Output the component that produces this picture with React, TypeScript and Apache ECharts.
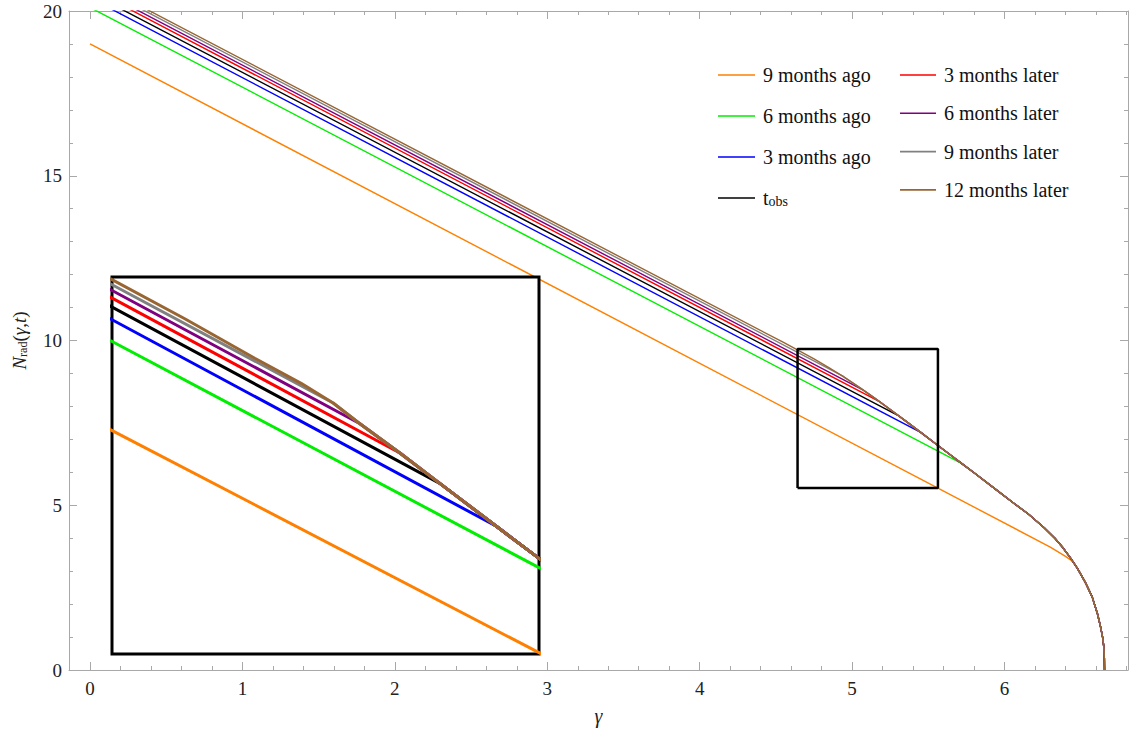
import React, { useEffect, useRef } from 'react';
import * as echarts from 'echarts';

// ---------- data ----------
const seriesNames = ['9 months ago', '6 months ago', '3 months ago', 't_obs', '3 months later', '6 months later', '9 months later', '12 months later'];
const seriesColors = ['#FF8000', '#00EE00', '#0000FF', '#000000', '#FF0000', '#800080', '#808080', '#996633'];

const xTickValues = [0, 1, 2, 3, 4, 5, 6];
const yTickValues = [0, 5, 10, 15, 20];

// common late-time curve (all curves join it)
const envelope: [number, number][] = [
  [4.55, 9.94], [4.65, 9.695], [4.75, 9.44], [4.85, 9.17], [4.95, 8.88], [5.05, 8.57], [5.15, 8.245],
  [5.25, 7.905], [5.35, 7.56], [5.45, 7.21], [5.55, 6.86], [5.65, 6.51], [5.72, 6.265], [5.80, 5.985],
  [5.94, 5.49], [6.05, 5.1], [6.16, 4.72], [6.26, 4.32], [6.33, 4.0], [6.378, 3.74], [6.43, 3.42], [6.477, 3.09],
  [6.53, 2.66], [6.575, 2.22], [6.61, 1.70], [6.63, 1.31], [6.645, 0.95], [6.651, 0.71], [6.655, 0.35], [6.656, 0],
];

// individual branches before joining the common curve
const head9Ago: [number, number][] = [[0, 19.0], [5.563, 5.52], [6.30, 3.73], [6.40, 3.45], [6.45, 3.29], [6.49, 3.0]];
const head6Ago: [number, number][] = [[0, 20.106], [5.72, 6.265]];
const head3Ago: [number, number][] = [[0, 20.397], [5.45, 7.21]];
const headObs: [number, number][] = [[0, 20.554], [5.30, 7.73]];
const head3Later: [number, number][] = [[0, 20.682], [5.18, 8.146]];
const head6Later: [number, number][] = [[0, 20.777], [5.07, 8.505]];
const head9Later: [number, number][] = [[0, 20.874], [4.94, 8.92]];
const head12Later: [number, number][] = [[0, 20.95], [4.55, 9.94]];

// zoom region
const zoomX = [4.642, 5.563];
const zoomY = [5.52, 9.74];

// inset (magnified view) curves
const insetEnvelope: [number, number][] = [
  [4.60, 9.827], [4.642, 9.71], [4.80, 9.27], [4.95, 8.83], [5.05, 8.55], [5.119, 8.33], [5.176, 8.10],
  [5.263, 7.77], [5.349, 7.43], [5.471, 6.95], [5.563, 6.59], [5.60, 6.446],
];
const insetHead9Ago: [number, number][] = [[4.60, 8.135], [5.563, 5.535], [5.60, 5.435]];
const insetHead6Ago: [number, number][] = [[4.60, 9.134], [5.563, 6.487], [5.60, 6.385]];
const insetHead3Ago: [number, number][] = [[4.60, 9.379], [5.471, 6.95]];
const insetHeadObs: [number, number][] = [[4.60, 9.521], [5.349, 7.43]];
const insetHead3Later: [number, number][] = [[4.60, 9.621], [5.263, 7.77]];
const insetHead6Later: [number, number][] = [[4.60, 9.707], [5.176, 8.10]];
const insetHead9Later: [number, number][] = [[4.60, 9.771], [5.119, 8.33]];
const insetHead12Later: [number, number][] = [[4.60, 9.827]];

const mainHeads = [head9Ago, head6Ago, head3Ago, headObs, head3Later, head6Later, head9Later, head12Later];
const insetHeads = [insetHead9Ago, insetHead6Ago, insetHead3Ago, insetHeadObs, insetHead3Later, insetHead6Later, insetHead9Later, insetHead12Later];

function joinCurve(head: [number, number][], tail: [number, number][]) {
  const last = head[head.length - 1][0];
  return head.concat(tail.filter((p) => p[0] > last + 1e-9));
}

// ---------- styling ----------
const FONT = "'Liberation Serif', 'Times New Roman', Times, serif";
const AXIS_GRAY = '#a8a8a8';
const X_MIN = -0.138;
const X_MAX = 6.81;

function frameAxis(extra: any) {
  return {
    type: 'value',
    axisLine: { show: true, onZero: false, lineStyle: { color: AXIS_GRAY, width: 1 } },
    axisTick: { show: true, inside: true, length: 8, lineStyle: { color: AXIS_GRAY } },
    minorTick: { show: true, splitNumber: 5, length: 4, lineStyle: { color: AXIS_GRAY } },
    splitLine: { show: false },
    minorSplitLine: { show: false },
    ...extra,
  };
}

const legendRich = {
  t: { fontFamily: FONT, fontSize: 20, color: '#111', lineHeight: 20, verticalAlign: 'bottom' },
  s: { fontFamily: FONT, fontSize: 14, color: '#111', lineHeight: 6, verticalAlign: 'bottom' },
};
const legendFormatter = (name: string) => (name === 't_obs' ? '{t|t}{s|obs}' : name);
const legendText = { fontFamily: FONT, fontSize: 20, color: '#111', lineHeight: 20, padding: [0, 0, 0, 3], rich: legendRich };

export default function App() {
  const ref = useRef<HTMLDivElement>(null);
  useEffect(() => {
    const chart = echarts.init(ref.current!, null, { renderer: 'svg' });
    const labelFmt = (v: number) => {
      const r = Math.round(v);
      return Math.abs(v - r) < 1e-6 && xTickValues.includes(r) ? String(r) : '';
    };
    const yLabelFmt = (v: number) => {
      const r = Math.round(v);
      return yTickValues.includes(r) && Math.abs(v - r) < 1e-6 ? String(r) : '';
    };
    const mainSeries = seriesNames.map((name, i) => ({
      name,
      type: 'line',
      xAxisIndex: 0,
      yAxisIndex: 0,
      data: joinCurve(mainHeads[i], envelope),
      symbol: 'none',
      showSymbol: false,
      clip: true,
      z: 2 + i * 0.01,
      lineStyle: { color: seriesColors[i], width: 1.4 },
      itemStyle: { color: seriesColors[i] },
    }));
    const insetSeries = seriesNames.map((name, i) => ({
      name,
      type: 'line',
      xAxisIndex: 2,
      yAxisIndex: 2,
      data: joinCurve(insetHeads[i], insetEnvelope),
      symbol: 'none',
      showSymbol: false,
      clip: true,
      z: 12 + i * 0.01,
      lineStyle: { color: seriesColors[i], width: 3 },
      itemStyle: { color: seriesColors[i] },
    }));
    const zoomBox = [
      [zoomX[0], zoomY[0]], [zoomX[1], zoomY[0]], [zoomX[1], zoomY[1]], [zoomX[0], zoomY[1]], [zoomX[0], zoomY[0]],
    ];
    const legendCommon = {
      orient: 'vertical', icon: 'rect', itemHeight: 1.6, selectedMode: false,
      formatter: legendFormatter, textStyle: legendText,
    };
    const option: any = {
      animation: false,
      backgroundColor: '#ffffff',
      grid: [
        { left: 69, top: 11, right: 2, bottom: 64, show: false },
        { left: 112, top: 277, width: 427, height: 377, show: true, backgroundColor: '#ffffff', borderColor: '#000', borderWidth: 3, z: 10 },
      ],
      legend: [
        { ...legendCommon, data: seriesNames.slice(0, 4), left: 713, top: 60, itemWidth: 37, itemGap: 21 },
        { ...legendCommon, data: seriesNames.slice(4), left: 895, top: 60, itemWidth: 36, itemGap: 18.3 },
      ],
      xAxis: [
        frameAxis({
          gridIndex: 0, min: X_MIN, max: X_MAX, position: 'bottom',
          axisLabel: { show: true, formatter: labelFmt, fontFamily: FONT, fontSize: 19, color: '#222', margin: 9 },
          name: 'γ', nameLocation: 'middle', nameGap: 36,
          nameTextStyle: { fontFamily: FONT, fontStyle: 'italic', fontSize: 20, color: '#222' },
        }),
        frameAxis({ gridIndex: 0, min: X_MIN, max: X_MAX, position: 'top', axisLabel: { show: false } }),
        { type: 'value', gridIndex: 1, min: zoomX[0], max: zoomX[1], show: false },
      ],
      yAxis: [
        frameAxis({
          gridIndex: 0, min: 0, max: 20, interval: 5, position: 'left',
          axisLabel: { show: true, formatter: yLabelFmt, fontFamily: FONT, fontSize: 19, color: '#222', margin: 7 },
          name: '{n|N}{s|rad}{p|(}{i|γ}{p|,}{i|t}{p|)}', nameLocation: 'middle', nameRotate: 90, nameGap: 40,
          nameTextStyle: {
            fontFamily: FONT, fontSize: 19, color: '#222',
            rich: {
              n: { fontFamily: FONT, fontSize: 19, fontStyle: 'italic', color: '#222', lineHeight: 22, verticalAlign: 'bottom' },
              s: { fontFamily: FONT, fontSize: 12, color: '#222', lineHeight: 9, verticalAlign: 'bottom' },
              p: { fontFamily: FONT, fontSize: 19, color: '#222', lineHeight: 22, verticalAlign: 'bottom' },
              i: { fontFamily: FONT, fontSize: 19, fontStyle: 'italic', color: '#222', lineHeight: 22, verticalAlign: 'bottom' },
            },
          },
        }),
        frameAxis({ gridIndex: 0, min: 0, max: 20, interval: 5, position: 'right', axisLabel: { show: false } }),
        { type: 'value', gridIndex: 1, min: zoomY[0], max: zoomY[1], show: false },
      ],
      series: [
        ...mainSeries,
        {
          name: 'zoom region', type: 'line', xAxisIndex: 0, yAxisIndex: 0, data: zoomBox, symbol: 'none', z: 3,
          lineStyle: { color: '#000', width: 2.5 }, itemStyle: { color: '#000' },
        },
        ...insetSeries,
      ],
    };
    chart.setOption(option);
    return () => chart.dispose();
  }, []);
  return <div ref={ref} style={{ position: 'absolute', left: 0, top: 0, width: 1131, height: 734, background: '#fff' }} />;
}
